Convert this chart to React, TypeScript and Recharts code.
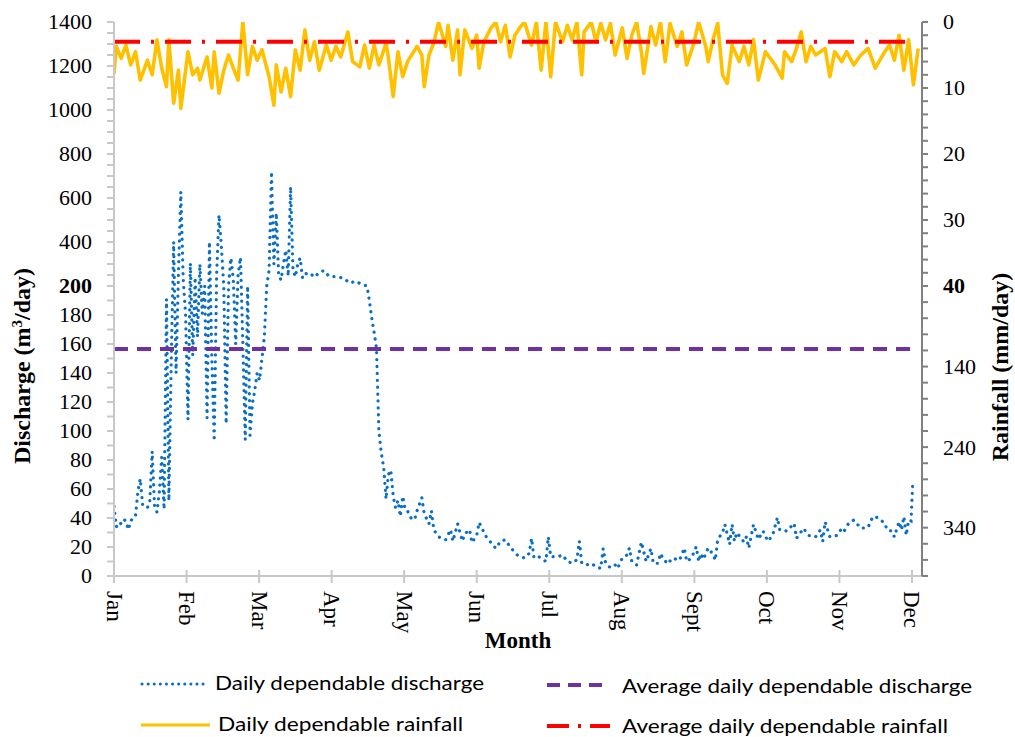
import React from 'react';
import { ComposedChart, Line, XAxis, YAxis } from 'recharts';

// ---------------- DATA ----------------
const months = ['Jan', 'Feb', 'Mar', 'Apr', 'May', 'Jun', 'Jul', 'Aug', 'Sept', 'Oct', 'Nov', 'Dec'];
const DAYS_PER_MONTH = 30.4;

// Daily dependable discharge (m3/day): day of year (0 = 1 Jan) and value
const dischargeDays = [
  0, 1, 2, 3, 4, 5, 6, 7, 8, 9, 10, 11, 12, 13, 14, 15, 16, 17, 18, 19, 20, 21, 22, 23, 24, 25, 26, 27, 28, 29,
  30, 31, 32, 33, 34, 35, 36, 37, 38, 39, 40, 41, 42, 43, 44, 45, 46, 47, 48, 49, 50, 51, 52, 53, 54, 55, 56, 57, 58, 59,
  60, 61, 62, 63, 64, 65, 66, 67, 68, 69, 70, 71, 72, 73, 74, 75, 76, 77, 78, 79, 80, 82, 84, 86, 88, 90, 93, 96, 99, 101,
  104, 106, 107, 108, 109, 110, 111, 112, 113, 114, 115, 116, 117, 118, 119, 120, 121, 122, 123, 124, 125, 126, 127, 129, 130, 132, 133, 134, 136, 139,
  141, 142, 144, 146, 147, 149, 150, 152, 153, 156, 158, 160, 162, 164, 166, 169, 172, 174, 175, 176, 178, 181, 182, 183, 186, 188, 190, 192, 194, 195,
  196, 198, 200, 202, 204, 205, 206, 208, 210, 211, 213, 215, 216, 217, 219, 221, 223, 225, 226, 228, 229, 230, 232, 234, 237, 239, 240, 242, 244, 245,
  246, 247, 249, 251, 252, 253, 255, 256, 258, 259, 260, 261, 264, 265, 266, 268, 270, 272, 274, 276, 278, 279, 282, 285, 286, 289, 291, 294, 296, 297,
  298, 300, 303, 305, 306, 308, 310, 313, 316, 318, 320, 323, 324, 326, 327, 329, 330, 331, 332, 333, 334, 334.7,
];
const dischargeValues = [
  48, 34, 37, 36, 39, 38, 32, 38, 40, 41, 58, 67, 49, 48, 47, 52, 86, 48, 44, 58, 82, 46, 191, 52, 150, 401, 140, 250, 628, 230,
  180, 108, 304, 152, 240, 165, 300, 181, 200, 109, 401, 150, 93, 250, 523, 380, 200, 105, 200, 327, 230, 160, 250, 330, 160, 94, 200, 97, 119, 128,
  140, 135, 150, 165, 200, 272, 720, 300, 532, 250, 227, 300, 363, 245, 651, 273, 242, 300, 327, 236, 255, 260, 240, 262, 270, 245, 242, 236, 213, 222,
  207, 200, 190, 178, 168, 157, 100, 85, 75, 53, 70, 73, 55, 47, 52, 41, 55, 46, 45, 41, 39, 39, 45, 54, 43, 36, 45, 32, 27, 25,
  32, 24, 36, 24, 29, 32, 23, 28, 37, 27, 23, 19, 24, 25, 20, 14.5, 12.4, 15.6, 26, 12.4, 13.3, 10, 27, 13.3, 13.3, 14.5, 10, 8.8, 11.2, 24,
  8.8, 7.6, 8.8, 6.4, 5.2, 18.9, 8.8, 5.7, 7.6, 5.2, 12.4, 14.5, 19.3, 10, 7.6, 23.4, 10, 18.9, 8.8, 8.8, 15.6, 12.4, 8.3, 12.4, 10.8, 19.3, 10, 12.4, 20.2, 10,
  15.6, 11.5, 19.3, 15, 10.8, 25.3, 29.9, 35.6, 21.8, 35.6, 24, 29.9, 23.4, 27, 19.3, 35.6, 25.3, 31, 24, 28, 40.3, 31.7, 31, 36.3, 26, 32.9, 28, 27, 31.7, 23.7,
  37.4, 27, 28, 32.9, 31, 36.8, 38.6, 32.9, 33.5, 41, 40.3, 36.3, 31.7, 31, 27, 37.4, 31.7, 41, 28, 38.6, 38, 64,
];

// Daily dependable rainfall (mm/day)
const rainfallDays = [
  0, 1, 3, 5, 7, 9, 11, 14, 16, 18, 20, 22, 23, 25, 27, 28, 31, 33, 35, 36, 39, 41, 42, 44, 46, 48, 50, 52, 54, 56,
  58, 60, 62, 65, 67, 68, 70, 72, 74, 76, 78, 80, 82, 84, 86, 89, 91, 93, 95, 98, 100, 103, 105, 107, 109, 111, 114, 115, 117, 119,
  121, 123, 127, 129, 130, 132, 134, 136, 139, 140, 142, 144, 145, 147, 150, 152, 153, 155, 158, 160, 162, 164, 166, 168, 170, 172, 175, 177, 179, 181,
  183, 185, 188, 190, 192, 194, 196, 197, 200, 202, 204, 206, 208, 210, 213, 215, 217, 219, 221, 222, 225, 227, 229, 231, 233, 236, 238, 240, 243, 245,
  248, 249, 251, 253, 255, 257, 259, 262, 264, 266, 268, 270, 273, 275, 277, 280, 281, 284, 286, 288, 290, 292, 294, 298, 300, 302, 305, 307, 310, 313,
  316, 319, 323, 325, 327, 329, 331, 333, 335, 337,
];
const rainfallValues = [
  7.8, 3.7, 5.5, 3.5, 6.5, 4.5, 8.8, 5.8, 8.0, 2.7, 7.0, 9.8, 2.7, 12.3, 7.3, 13.1, 4.5, 8.0, 7.0, 8.8, 5.3, 10.0, 4.5, 10.8, 7.3, 5.0, 7.0, 8.8, 0, 8.0,
  3.7, 5.8, 4.2, 8.3, 12.6, 6.5, 10.6, 7.0, 11.3, 4.2, 7.3, 1.2, 5.8, 3.0, 7.3, 3.5, 5.8, 3.7, 5.3, 1.5, 6.0, 6.8, 3.5, 7.0, 3.5, 6.5, 3.2, 5.5, 11.3, 4.5,
  8.3, 6.0, 3.7, 5.0, 9.8, 5.0, 3.2, 0, 3.7, 0.5, 5.8, 1.2, 8.0, 1.2, 4.0, 2.0, 7.0, 3.0, 0.9, 0, 3.0, 0.5, 5.3, 2.0, 0.9, 0, 3.5, 0, 7.3, 0,
  8.3, 0, 3.0, 0.5, 2.7, 0, 8.0, 1.5, 0, 3.0, 0.2, 2.7, 0.2, 5.0, 0.9, 5.5, 2.0, 0, 4.5, 7.8, 0.7, 3.5, 0, 6.0, 0.2, 3.7, 1.5, 6.5, 3.2, 0,
  3.7, 6.0, 2.7, 0.2, 8.0, 9.3, 3.5, 6.0, 3.7, 6.5, 2.7, 8.8, 4.5, 5.5, 6.5, 8.5, 4.5, 6.0, 4.0, 1.5, 6.0, 3.7, 5.0, 4.0, 8.3, 4.5, 6.0, 4.5, 6.5, 5.0,
  4.0, 7.0, 4.5, 3.5, 5.8, 2.0, 7.3, 2.7, 9.5, 4.0,
];

const avgDischargeValue = 156.5; // m3/day
const avgRainfallValue = 3.0; // mm/day
const averageDays = [0, 334.4];

const leftLowerTicks = [0, 10, 20, 30, 40, 50, 60, 70, 80, 90, 100, 110, 120, 130, 140, 150, 160, 170, 180, 190, 200];
const leftUpperTicks = [250, 300, 350, 400, 450, 500, 550, 600, 650, 700, 750, 800, 850, 900, 950, 1000, 1050, 1100, 1150, 1200, 1250, 1300, 1350, 1400];
const rightUpperTicks = [0, 2, 4, 6, 8, 10, 12, 14, 16, 18, 20, 22, 24, 26, 28, 30, 32, 34, 36, 38, 40];
const rightLowerTicks = [60, 80, 100, 120, 140, 160, 180, 200, 220, 240, 260, 280, 300, 320, 340, 360, 380, 400];

// ---------------- BROKEN AXIS GEOMETRY ----------------
const PLOT_H = 554; // plot height in px, used as the shared axis domain
const BREAK = 290; // break position from the bottom
const dT = (v: number) => (v <= 200 ? (v * BREAK) / 200 : BREAK + ((v - 200) * (PLOT_H - BREAK)) / 1200);
const rT = (r: number) => (r <= 40 ? PLOT_H - (r * (PLOT_H - BREAK)) / 40 : BREAK - ((r - 40) * BREAK) / 360);

const dischargeData = dischargeDays.map((d, i) => ({ day: d, t: dT(dischargeValues[i]) }));
const rainfallData = rainfallDays.map((d, i) => ({ day: d, t: rT(rainfallValues[i]) }));
const avgDischargeData = averageDays.map((d) => ({ day: d, t: dT(avgDischargeValue) }));
const avgRainfallData = averageDays.map((d) => ({ day: d, t: rT(avgRainfallValue) }));

type TickInfo = { t: number; label: string; bold: boolean };
const leftTickInfo: TickInfo[] = [
  ...leftLowerTicks.map((v) => ({ t: dT(v), label: v % 20 === 0 ? String(v) : '', bold: v === 200 })),
  ...leftUpperTicks.map((v) => ({ t: dT(v), label: v % 200 === 0 ? String(v) : '', bold: false })),
];
const rightTickInfo: TickInfo[] = [
  ...rightUpperTicks.map((r) => ({ t: rT(r), label: r % 10 === 0 ? String(r) : '', bold: r === 40 })),
  ...rightLowerTicks.map((r) => ({ t: rT(r), label: (r - 40) % 100 === 0 ? String(r) : '', bold: false })),
];
const monthTicks = months.map((_, i) => i * DAYS_PER_MONTH);

const SERIF = '"Liberation Serif", "Times New Roman", serif';
const SANS = 'Lato, "Liberation Sans", Arial, sans-serif';

const findTick = (list: TickInfo[], value: number) => list.find((k) => Math.abs(k.t - value) < 0.01);

const LeftTick = (props: any) => {
  const { y, payload } = props;
  const info = findTick(leftTickInfo, payload.value);
  if (!info || !info.label) return <g />;
  return (
    <text x={92} y={y} dy="0.34em" textAnchor="end" fontFamily={SERIF} fontSize={22} fontWeight={info.bold ? 700 : 400} fill="#000">
      {info.label}
    </text>
  );
};

const RightTick = (props: any) => {
  const { y, payload } = props;
  const info = findTick(rightTickInfo, payload.value);
  if (!info || !info.label) return <g />;
  return (
    <text x={943} y={y} dy="0.34em" textAnchor="start" fontFamily={SERIF} fontSize={22} fontWeight={info.bold ? 700 : 400} fill="#000">
      {info.label}
    </text>
  );
};

const MonthTick = (props: any) => {
  const { x, payload } = props;
  const i = Math.round(payload.value / DAYS_PER_MONTH);
  return (
    <g>
      <line x1={x} x2={x} y1={570} y2={583} stroke="#c8c8c8" strokeWidth={2} />
      <text transform={`translate(${x},591) rotate(90)`} textAnchor="start" dominantBaseline="central" fontFamily={SERIF} fontSize={23} fill="#000">
        {months[i]}
      </text>
    </g>
  );
};

const BLUE = '#0a6fc2';
const YELLOW = '#ffc000';
const PURPLE = '#7030a0';
const RED = '#ff0000';

export default function App() {
  return (
    <div style={{ position: 'absolute', left: 0, top: 0, width: 1015, height: 737, background: '#fff' }}>
      <ComposedChart width={1015} height={737} margin={{ top: 22, right: 0, bottom: 0, left: 0 }}>
        <XAxis
          dataKey="day"
          type="number"
          domain={[0, 338.6]}
          allowDataOverflow
          ticks={monthTicks}
          interval={0}
          height={161}
          tick={<MonthTick />}
          tickLine={false}
          axisLine={{ stroke: '#c8c8c8', strokeWidth: 2 }}
        />
        <YAxis
          yAxisId="l"
          orientation="left"
          width={114}
          type="number"
          domain={[0, PLOT_H]}
          allowDataOverflow
          ticks={leftTickInfo.map((k) => k.t)}
          interval={0}
          tick={<LeftTick />}
          tickSize={7}
          tickLine={{ stroke: '#c8c8c8', strokeWidth: 2 }}
          axisLine={{ stroke: '#c8c8c8', strokeWidth: 2 }}
        />
        <YAxis
          yAxisId="r"
          orientation="right"
          width={93}
          type="number"
          domain={[0, PLOT_H]}
          allowDataOverflow
          ticks={rightTickInfo.map((k) => k.t)}
          interval={0}
          tick={<RightTick />}
          tickSize={6}
          tickLine={{ stroke: '#808080', strokeWidth: 2 }}
          axisLine={{ stroke: '#808080', strokeWidth: 2 }}
        />
        <Line
          yAxisId="l"
          data={dischargeData}
          dataKey="t"
          type="linear"
          stroke={BLUE}
          strokeWidth={3.2}
          strokeDasharray="0.1 6.8"
          strokeLinecap="round"
          dot={false}
          activeDot={false}
          isAnimationActive={false}
        />
        <Line
          yAxisId="r"
          data={rainfallData}
          dataKey="t"
          type="linear"
          stroke={YELLOW}
          strokeWidth={3.6}
          strokeLinejoin="round"
          dot={false}
          activeDot={false}
          isAnimationActive={false}
        />
        <Line
          yAxisId="l"
          data={avgDischargeData}
          dataKey="t"
          type="linear"
          stroke={PURPLE}
          strokeWidth={4}
          strokeDasharray="14 9"
          dot={false}
          activeDot={false}
          isAnimationActive={false}
        />
        <Line
          yAxisId="r"
          data={avgRainfallData}
          dataKey="t"
          type="linear"
          stroke={RED}
          strokeWidth={4}
          strokeDasharray="26 11 3 11"
          dot={false}
          activeDot={false}
          isAnimationActive={false}
        />
      </ComposedChart>
      <svg width={1015} height={737} style={{ position: 'absolute', left: 0, top: 0, pointerEvents: 'none' }}>
        <text transform="translate(30,366) rotate(-90)" textAnchor="middle" fontFamily={SERIF} fontSize={24} fontWeight={700} fill="#000">
          Discharge (m<tspan baselineShift="super" fontSize={15}>3</tspan>/day)
        </text>
        <text transform="translate(1008,367) rotate(-90)" textAnchor="middle" fontFamily={SERIF} fontSize={24} fontWeight={700} fill="#000">
          Rainfall (mm/day)
        </text>
        <text x={518} y={648} textAnchor="middle" fontFamily={SERIF} fontSize={23} fontWeight={700} fill="#000">
          Month
        </text>
        {/* legend */}
        <line x1={142} x2={205} y1={684} y2={684} stroke={BLUE} strokeWidth={3} strokeDasharray="0.1 6" strokeLinecap="round" />
        <text x={215} y={682} dominantBaseline="central" fontFamily={SANS} fontSize={20} textLength={269} lengthAdjust="spacingAndGlyphs" fill="#000">
          Daily dependable discharge
        </text>
        <line x1={547} x2={602} y1={685} y2={685} stroke={PURPLE} strokeWidth={4} strokeDasharray="13 8" />
        <text x={622} y={685} dominantBaseline="central" fontFamily={SANS} fontSize={20} textLength={350} lengthAdjust="spacingAndGlyphs" fill="#000">
          Average daily dependable discharge
        </text>
        <line x1={141} x2={210} y1={725} y2={725} stroke={YELLOW} strokeWidth={3} />
        <text x={218} y={723} dominantBaseline="central" fontFamily={SANS} fontSize={20} textLength={245} lengthAdjust="spacingAndGlyphs" fill="#000">
          Daily dependable rainfall
        </text>
        <line x1={547} x2={610} y1={726} y2={726} stroke={RED} strokeWidth={4} strokeDasharray="22 9 3 9" />
        <text x={622} y={725} dominantBaseline="central" fontFamily={SANS} fontSize={20} textLength={326} lengthAdjust="spacingAndGlyphs" fill="#000">
          Average daily dependable rainfall
        </text>
      </svg>
    </div>
  );
}
